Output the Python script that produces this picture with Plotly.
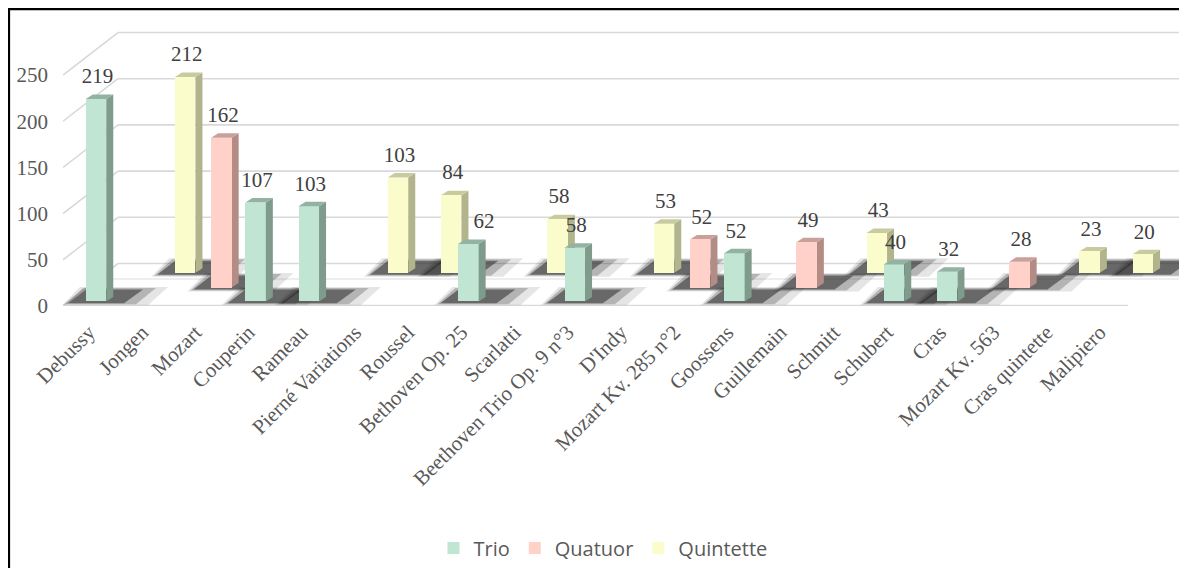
import plotly.graph_objects as go

# ---------------- data ----------------
categories = ["Debussy", "Jongen", "Mozart", "Couperin", "Rameau", "Pierné Variations",
              "Roussel", "Bethoven Op. 25", "Scarlatti", "Beethoven Trio Op. 9 n°3",
              "D'Indy", "Mozart Kv. 285 n°2", "Goossens", "Guillemain", "Schmitt",
              "Schubert", "Cras", "Mozart Kv. 563", "Cras quintette", "Malipiero"]
trio = [219, None, None, 107, 103, None, None, 62, None, 58,
        None, None, 52, None, None, 40, 32, None, None, None]
quatuor = [None, None, 162, None, None, None, None, None, None, None,
           None, 52, None, 49, None, None, None, 28, None, None]
quintette = [None, 212, None, None, None, 103, 84, None, 58, None,
             53, None, None, None, 43, None, None, None, 23, 20]
y_ticks = [0, 50, 100, 150, 200, 250]

# ---------------- geometry / style ----------------
OFF = 8                            # page body margin of the html page
W, H = 1187 - OFF, 568 - OFF
ML, MR, MT, MB = 55, 4, 2, 261
PW, PH = W - ML - MR, H - MT - MB
PX_CAT = 53.2                      # px per category unit
PX_UNIT = 0.927                    # px per value unit
X0 = -33 / PX_CAT
X1 = X0 + PW / PX_CAT
YR = PH / PX_UNIT

def ux(px):
    return px / PX_CAT

def uy(px):
    return px / PX_UNIT

BAR_W = ux(20.5)
SIDE_DX = ux(7)
SIDE_DY = uy(4.5)
DEPTH_X = ux(55)      # wall depth
DEPTH_Y = 46          # wall depth in value units

SERIF = "Liberation Serif"
series = [
    dict(name="Quintette", vals=quintette, dx=ux(36), base=36,
         front="#FAFCCB", side="#B2B48C", top="#C9CB9E", rank=3),
    dict(name="Quatuor", vals=quatuor, dx=ux(19), base=20,
         front="#FFD1C8", side="#B38C86", top="#C9A09A", rank=2),
    dict(name="Trio", vals=trio, dx=0.0, base=5,
         front="#C0E5D3", side="#7E9B8C", top="#93B2A2", rank=1),
]
label_nudge = {7: ux(14)}

fig = go.Figure()
shapes = []

def path(points, close=True):
    s = "M " + " L ".join(f"{x:.4f},{y:.4f}" for x, y in points)
    return s + (" Z" if close else "")

# back wall gridlines and side-wall diagonals
GRID = "#D9D9D9"
for t in y_ticks:
    shapes.append(dict(type="line", xref="x", yref="y", layer="below",
                       x0=X0 + DEPTH_X, x1=X1, y0=t + DEPTH_Y, y1=t + DEPTH_Y,
                       line=dict(color=GRID, width=1.6)))
    shapes.append(dict(type="line", xref="x", yref="y", layer="below",
                       x0=X0, x1=X0 + DEPTH_X, y0=t, y1=t + DEPTH_Y,
                       line=dict(color=GRID, width=1.6)))
# floor lines
shapes.append(dict(type="line", xref="x", yref="y", layer="below",
                   x0=X0, x1=X0 + ux(1128 - 63), y0=0.4, y1=0.4,
                   line=dict(color=GRID, width=2)))
shapes.append(dict(type="line", xref="x", yref="y", layer="below",
                   x0=X0 + ux(35), x1=X1, y0=uy(27), y1=uy(27),
                   line=dict(color="#E8E8E8", width=1.5)))

# shadows
shadow_layers = [
    ([(-34, -4), (52, -4), (72, 14.5), (-16, 14.5)], 0.12),
    ([(-31, -3), (40, -3), (60, 13.5), (-13, 13.5)], 0.26),
    ([(-28, -2), (28, -2), (47, 12), (-10, 12)], 0.55),
]
for s in series:
    for i, v in enumerate(s["vals"]):
        if v is None:
            continue
        xc = i + s["dx"]
        for pts, op in shadow_layers:
            shapes.append(dict(type="path", xref="x", yref="y", layer="below",
                               path=path([(xc + ux(a), s["base"] + uy(b)) for a, b in pts]),
                               fillcolor="#2A2A2A", opacity=op, line=dict(width=0)))

# 3D side and top faces
for s in series:
    layer = "above" if s["name"] == "Trio" else "below"
    for i, v in enumerate(s["vals"]):
        if v is None:
            continue
        xc = i + s["dx"]
        xl, xr = xc - BAR_W / 2, xc + BAR_W / 2
        b, t = s["base"], s["base"] + v
        shapes.append(dict(type="path", xref="x", yref="y", layer=layer,
                           path=path([(xr, b), (xr + SIDE_DX, b + SIDE_DY),
                                      (xr + SIDE_DX, t + SIDE_DY), (xr, t)]),
                           fillcolor=s["side"], line=dict(width=0)))
        shapes.append(dict(type="path", xref="x", yref="y", layer=layer,
                           path=path([(xl, t), (xr, t), (xr + SIDE_DX, t + SIDE_DY),
                                      (xl + SIDE_DX, t + SIDE_DY)]),
                           fillcolor=s["top"], line=dict(width=0)))

# bars (front faces)
for s in series:
    xs, ys = [], []
    for i, v in enumerate(s["vals"]):
        if v is None:
            continue
        xs.append(i + s["dx"])
        ys.append(v)
    fig.add_trace(go.Bar(x=xs, y=ys, base=s["base"], width=BAR_W, name=s["name"],
                         marker=dict(color=s["front"], line=dict(width=0)),
                         legendrank=s["rank"], hoverinfo="skip"))

# data labels
for s in series:
    xs, ys, tx = [], [], []
    for i, v in enumerate(s["vals"]):
        if v is None:
            continue
        xs.append(i + s["dx"] + ux(1.5) + label_nudge.get(i, 0))
        ys.append(s["base"] + v + uy(21))
        tx.append(str(v))
    fig.add_trace(go.Scatter(x=xs, y=ys, text=tx, mode="text", showlegend=False,
                             textposition="middle center", hoverinfo="skip",
                             textfont=dict(family=SERIF, size=21, color="#404040")))

# border of the chart area (screen coordinates -> paper)
def px2paper_x(px):
    return (px - OFF - ML) / PW

def px2paper_y(py):
    return (H - MB - (py - OFF)) / PH

shapes.append(dict(type="path", xref="paper", yref="paper", layer="above",
                   path=path([(px2paper_x(9), px2paper_y(700)), (px2paper_x(9), px2paper_y(9.2)),
                              (px2paper_x(1300), px2paper_y(9.2))], close=False),
                   line=dict(color="#000000", width=2.2)))

tick_pos = [i + ux(-7) for i in range(len(categories))]

fig.update_layout(
    width=W, height=H,
    margin=dict(l=ML, r=MR, t=MT, b=MB, pad=0),
    paper_bgcolor="white", plot_bgcolor="white",
    barmode="overlay", bargap=0,
    shapes=shapes,
    showlegend=True,
    legend=dict(orientation="h", x=px2paper_x(603), xanchor="center",
                y=px2paper_y(548), yanchor="middle",
                font=dict(family="Open Sans", size=20, color="#595959"),
                bgcolor="rgba(0,0,0,0)"),
    xaxis=dict(range=[X0, X1], showgrid=False, zeroline=False, showline=False,
               tickmode="array", tickvals=tick_pos, ticktext=categories,
               tickangle=-45, ticks="", ticklabelstandoff=9,
               tickfont=dict(family=SERIF, size=21, color="#595959")),
    yaxis=dict(range=[0, YR], showgrid=False, zeroline=False, showline=False,
               tickmode="array", tickvals=y_ticks, ticks="", ticklabelstandoff=14,
               tickfont=dict(family=SERIF, size=21, color="#595959")),
)

fig.write_html("out.html")
